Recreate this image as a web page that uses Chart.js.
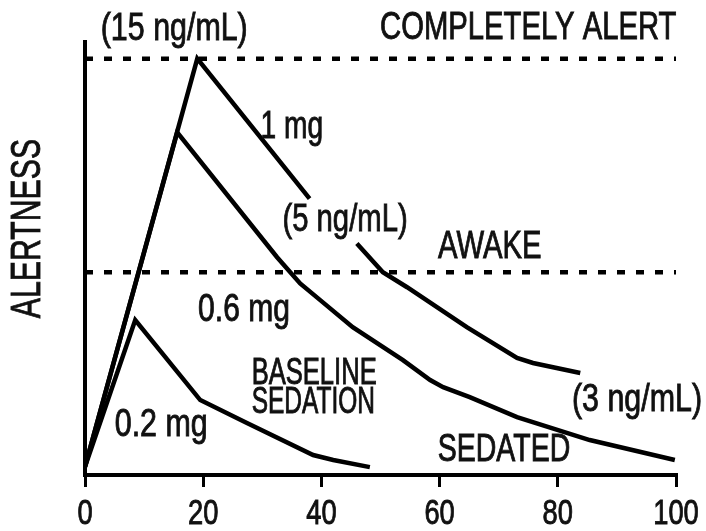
<!DOCTYPE html>
<html>
<head>
<meta charset="utf-8">
<script src="https://cdn.jsdelivr.net/npm/chart.js@4.4.1/dist/chart.umd.min.js"></script>
<style>
  body { margin: 0; background: #fff; }
  canvas { display: block; }
</style>
</head>
<body>
<canvas id="alertChart" width="706" height="531"></canvas>
<script>
"use strict";

// time axis ticks (minutes)
const xTicks = [0, 20, 40, 60, 80, 100];

// 1 mg curve, gap where the "(5 ng/mL)" label sits
const dose1mgX = [0, 19, 38, 42, 46.0, 50.4, 54.5, 64.6, 73.1, 75.8, 83.8];
const dose1mgY = [2, 100, 66.4, null, 55.6, 48.7, 45.1, 35.5, 28.1, 26.9, 24.5];

const dose06mgX = [0, 15.6, 32.5, 36.4, 39.8, 45.3, 53.8, 58.4, 60.6, 65.1, 73.1, 85.4, 99.8];
const dose06mgY = [2, 82.3, 52.3, 46.0, 42.0, 35.5, 27.6, 22.8, 21.1, 18.7, 13.9, 8.4, 3.6];

const dose02mgX = [0, 8.5, 19.5, 27.4, 38.6, 42.0, 48.2];
const dose02mgY = [2, 37.2, 18.0, 12.5, 4.8, 3.6, 1.9];

// reference levels
const completelyAlert = 100;
const awake = 48.7;

const toPoints = (xs, ys) => xs.map((x, i) => ({ x: x, y: ys[i] }));

// text on the plot, placed in axis units
const notes = [
  { text: '(15 ng/mL)', x: 15.1, y: 106.9, sq: 0.8 },
  { text: 'COMPLETELY ALERT', x: 75.0, y: 107.2 },
  { text: '1 mg', x: 35.0, y: 83.5, sq: 0.74 },
  { text: '(5 ng/mL)', x: 44.0, y: 61.2 },
  { text: 'AWAKE', x: 68.5, y: 54.6 },
  { text: '0.6 mg', x: 26.9, y: 39.6, sq: 0.79 },
  { text: 'BASELINE', x: 28.2, y: 24.2, align: 'left', size: 36, sq: 0.71 },
  { text: 'SEDATION', x: 28.2, y: 17.3, align: 'left', size: 36, sq: 0.68 },
  { text: '0.2 mg', x: 12.9, y: 11.8, sq: 0.8 },
  { text: '(3 ng/mL)', x: 93.4, y: 18.0, sq: 0.8 },
  { text: 'SEDATED', x: 70.9, y: 5.8, sq: 0.75 }
];

const family = "'Liberation Sans', Arial, sans-serif";

const drawText = (ctx, text, x, y, size, squeeze, align, rotate) => {
  ctx.save();
  ctx.translate(x, y);
  if (rotate) ctx.rotate(rotate);
  ctx.scale(squeeze, 1);
  ctx.font = size + 'px ' + family;
  ctx.textAlign = align || 'center';
  ctx.textBaseline = 'middle';
  ctx.fillStyle = '#111';
  ctx.strokeStyle = '#111';
  ctx.lineWidth = 0.9;
  ctx.fillText(text, 0, 0);
  ctx.strokeText(text, 0, 0);
  ctx.restore();
};

const notesPlugin = {
  id: 'notes',
  afterDraw(chart) {
    const ctx = chart.ctx;
    const xs = chart.scales.x;
    const ys = chart.scales.y;
    notes.forEach((n) => {
      drawText(ctx, n.text, xs.getPixelForValue(n.x), ys.getPixelForValue(n.y),
        n.size || 38, n.sq || 0.77, n.align);
    });
    // condensed tick labels, taken from the x scale ticks
    xs.ticks.forEach((t) => {
      drawText(ctx, String(t.value), xs.getPixelForValue(t.value), xs.bottom - 17, 35, 0.78);
    });
    drawText(ctx, 'ALERTNESS', 28, ys.getPixelForValue(59.2), 42, 0.72, 'center', -Math.PI / 2);
  }
};

const solid = (pts) => ({
  data: pts,
  showLine: true,
  borderColor: '#000',
  borderWidth: 4.5,
  pointRadius: 0,
  spanGaps: false,
  tension: 0
});

const dashed = (level) => ({
  data: [{ x: 0, y: level }, { x: 100.5, y: level }],
  showLine: true,
  borderColor: '#000',
  borderWidth: 4.5,
  borderDash: [8, 11],
  pointRadius: 0
});

const ctx = document.getElementById('alertChart').getContext('2d');
const alertChart = new Chart(ctx, {
  type: 'scatter',
  data: {
    datasets: [
      dashed(completelyAlert),
      dashed(awake),
      solid(toPoints(dose1mgX, dose1mgY)),
      solid(toPoints(dose06mgX, dose06mgY)),
      solid(toPoints(dose02mgX, dose02mgY))
    ]
  },
  options: {
    responsive: false,
    animation: false,
    layout: { padding: { top: 42, right: 30, left: 0, bottom: 0 } },
    plugins: { legend: { display: false }, tooltip: { enabled: false } },
    scales: {
      x: {
        type: 'linear',
        min: 0,
        max: 100,
        afterBuildTicks: (scale) => { scale.ticks = xTicks.map(v => ({ value: v })); },
        afterFit: (scale) => { scale.height = 56; },
        ticks: { display: false },
        grid: { drawOnChartArea: false, drawTicks: true, tickLength: 12, color: '#000', lineWidth: 3 },
        border: { color: '#000', width: 4 }
      },
      y: {
        min: 0,
        max: 104,
        afterFit: (scale) => { scale.width = 85; },
        ticks: { display: false },
        grid: { drawOnChartArea: false, drawTicks: false },
        border: { color: '#000', width: 4 }
      }
    }
  },
  plugins: [notesPlugin]
});
</script>
</body>
</html>
